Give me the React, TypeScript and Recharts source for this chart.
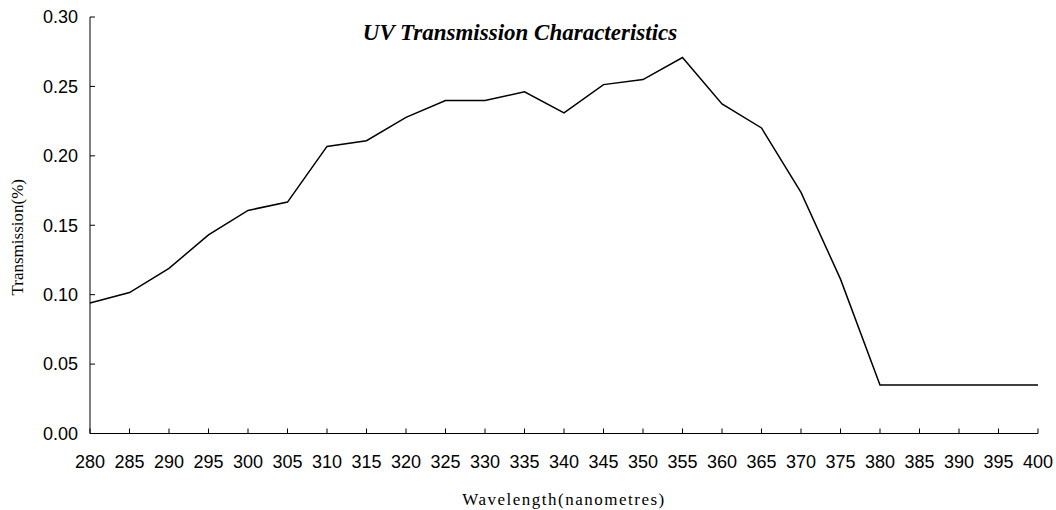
import React from 'react';
import { LineChart, Line, XAxis, YAxis } from 'recharts';

const wavelengths = [280, 285, 290, 295, 300, 305, 310, 315, 320, 325, 330, 335, 340, 345, 350, 355, 360, 365, 370, 375, 380, 385, 390, 395, 400];
const transmission = [0.094, 0.1015, 0.119, 0.143, 0.1607, 0.1667, 0.2068, 0.2109, 0.2277, 0.2398, 0.2398, 0.2461, 0.2309, 0.2513, 0.2549, 0.2708, 0.2374, 0.2201, 0.1737, 0.1112, 0.035, 0.035, 0.035, 0.035, 0.035];
const yTicks = [0, 0.05, 0.1, 0.15, 0.2, 0.25, 0.3];

const chartTitle = 'UV Transmission Characteristics';
const xTitle = 'Wavelength(nanometres)';
const yTitle = 'Transmission(%)';

const data = wavelengths.map((w, i) => ({ w, t: transmission[i] }));

const SANS = '"Liberation Sans", Arial, sans-serif';
const SERIF = '"Liberation Serif", "Times New Roman", serif';

export default function App() {
  return (
    <div style={{ position: 'absolute', left: 0, top: 0, width: 1056, height: 510, background: '#fff' }}>
      <LineChart width={1056} height={510} data={data} margin={{ top: 17, right: 18, bottom: 0, left: 0 }}>
        <XAxis
          dataKey="w"
          type="number"
          domain={[280, 400]}
          ticks={wavelengths}
          interval={0}
          height={76.5}
          tickSize={-5}
          tickMargin={27}
          stroke="#000"
          axisLine={{ stroke: '#000', strokeWidth: 1 }}
          tickLine={{ stroke: '#000' }}
          tick={{ fill: '#000', fontFamily: SANS, fontSize: 18 }}
          label={{
            content: (props: any) => {
              const vb = props.viewBox;
              return (
                <text x={vb.x + vb.width / 2} y={505} textAnchor="middle" fontFamily={SERIF} fontSize={17} letterSpacing={1.5} fill="#000">
                  {xTitle}
                </text>
              );
            },
          }}
        />
        <YAxis
          dataKey="t"
          type="number"
          domain={[0, 0.3]}
          ticks={yTicks}
          interval={0}
          width={90}
          tickSize={-5}
          tickMargin={17}
          stroke="#000"
          axisLine={{ stroke: '#000', strokeWidth: 1 }}
          tickLine={{ stroke: '#000' }}
          tick={{ fill: '#000', fontFamily: SANS, fontSize: 18 }}
          tickFormatter={(v: number) => v.toFixed(2)}
          label={{
            content: (props: any) => {
              const vb = props.viewBox;
              const cy = vb.y + vb.height / 2 + 12;
              return (
                <text x={17} y={cy} transform={`rotate(-90, 17, ${cy})`} textAnchor="middle" dominantBaseline="central" fontFamily={SERIF} fontSize={17} fill="#000">
                  {yTitle}
                </text>
              );
            },
          }}
        />
        <Line type="linear" dataKey="t" stroke="#000" strokeWidth={1.5} dot={false} activeDot={false} isAnimationActive={false} />
      </LineChart>
      <div
        style={{
          position: 'absolute',
          left: 520,
          top: 18,
          transform: 'translateX(-50%)',
          whiteSpace: 'nowrap',
          fontFamily: SERIF,
          fontWeight: 'bold',
          fontStyle: 'italic',
          fontSize: 23,
          lineHeight: '30px',
          color: '#000',
        }}
      >
        {chartTitle}
      </div>
    </div>
  );
}
